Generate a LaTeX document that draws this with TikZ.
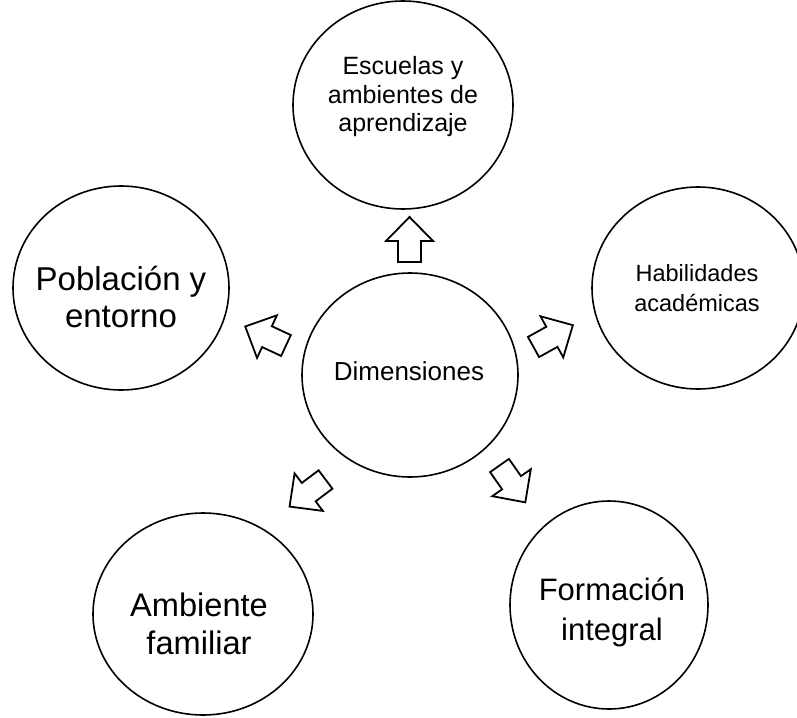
\documentclass[tikz,border=0pt]{standalone}
\usepackage{fontspec}
\setmainfont{Liberation Sans}
\usetikzlibrary{shapes.geometric}

\begin{document}
\begin{tikzpicture}[x=0.5pt,y=-0.5pt,
  bubble/.style={draw,ellipse,inner sep=0pt,line width=0.8pt},
  blockarrow/.style={draw,line width=0.9pt,line join=miter},
  txt/.style={align=center,inner sep=0pt}]
\useasboundingbox (0,0) rectangle (797,717);

% Circles
\node[bubble,minimum width=108pt,minimum height=102pt] (dim) at (410,375) {};
\node[bubble,minimum width=110pt,minimum height=104pt] (esc) at (403,105) {};
\node[bubble,minimum width=108pt,minimum height=102pt] (pob) at (121,288) {};
\node[bubble,minimum width=106pt,minimum height=101pt] (hab) at (698,288) {};
\node[bubble,minimum width=110pt,minimum height=101pt] (amb) at (203,614) {};
\node[bubble,minimum width=99pt,minimum height=104pt] (form) at (609,605) {};

% Texts
\node[txt,font=\fontsize{13}{15}\selectfont] (dimtxt) at (409,371) {Dimensiones};
\node[txt,font=\fontsize{12.5}{14.25}\selectfont] (esctxt) at (403,97) {Escuelas y\\ambientes de\\aprendizaje};
\node[txt,font=\fontsize{16.5}{18.5}\selectfont] (pobtxt) at (121,297) {Población y\\entorno};
\node[txt,font=\fontsize{11.75}{15}\selectfont] (habtxt) at (697,288) {Habilidades\\académicas};
\node[txt,font=\fontsize{16.3}{19}\selectfont] (ambtxt) at (199,624) {Ambiente\\familiar};
\node[txt,font=\fontsize{15.5}{20}\selectfont] (formtxt) at (612,612) {Formación\\integral};

% Block arrows (base point / direction)
\foreach \x/\y/\a in {409.5/262/90, 286/345.5/155, 533.5/347/29, 325.5/479.5/-143, 499.5/465.5/-55}
\draw[blockarrow,shift={(\x,\y)},rotate=\a] (0,-11.5) -- (21,-11.5) -- (21,-23.5) -- (45,0)
  -- (21,23.5) -- (21,11.5) -- (0,11.5) -- cycle;
\end{tikzpicture}
\end{document}
